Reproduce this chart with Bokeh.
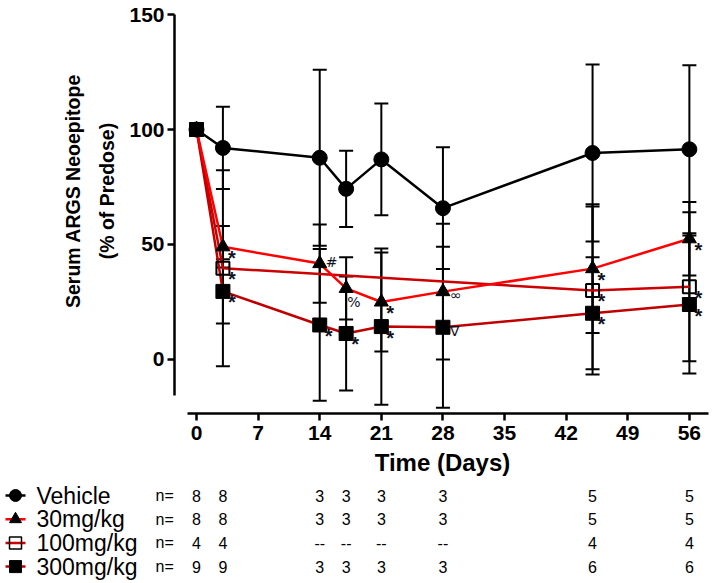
from bokeh.plotting import figure
from bokeh.models import Range1d, FixedTicker, Whisker, TeeHead, ColumnDataSource, LinearAxis
from bokeh.embed import file_html
from bokeh.resources import INLINE
from bokeh.core.properties import value

# ---------------- data ----------------
days = [0, 3, 14, 17, 21, 28, 45, 56]
vehicle = [100, 92.0, 87.7, 74.2, 87.0, 65.8, 89.8, 91.4]
vehicle_err = [0, 17.9, 38.3, 16.6, 24.3, 26.5, 38.5, 36.5]
mg30 = [100, 49.0, 41.7, 30.9, 25.0, 29.5, 39.5, 52.5]
mg30_err = [0, 9.0, 17.0, 13.5, 21.5, 29.5, 28.0, 16.0]
days100 = [0, 3, 45, 56]
mg100 = [100, 39.7, 30.0, 31.6]
mg100_err = [0, 42.6, 36.5, 32.4]
mg300 = [100, 29.6, 15.0, 11.3, 14.3, 14.0, 20.1, 23.9]
mg300_err = [0, 14.0, 33.0, 24.8, 34.0, 35.0, 24.4, 30.0]

star30_days = [3, 21, 45, 56]
star100_days = [3, 45, 56]
star300_days = [3, 14, 17, 21, 45, 56]

group_labels = ["Vehicle", "30mg/kg", "100mg/kg", "300mg/kg"]
n_vehicle = ["8", "8", "3", "3", "3", "3", "5", "5"]
n_30 = ["8", "8", "3", "3", "3", "3", "5", "5"]
n_100 = ["4", "4", "--", "--", "--", "--", "4", "4"]
n_300 = ["9", "9", "3", "3", "3", "3", "6", "6"]

x_ticks = [0, 7, 14, 21, 28, 35, 42, 49, 56]
y_ticks = [0, 50, 100, 150]

# ---------------- styling ----------------
FONT = "Liberation Sans"
BLACK = "#000000"
RED = "#ff0000"
DRED = "#cc0000"
DRED2 = "#c00000"

X0, X1 = -2.5, 58.4
FRAME_W = 536
BORDER_L = 174
PPD = FRAME_W / (X1 - X0)
Y0, Y1 = -23.5, 153.5
FRAME_H = 407

p = figure(frame_width=FRAME_W, frame_height=FRAME_H,
           x_range=Range1d(X0, X1), y_range=Range1d(Y0, Y1),
           output_backend="svg", toolbar_location=None,
           min_border_left=BORDER_L, min_border_right=2, min_border_top=6,
           min_border_bottom=65)
p.outline_line_color = None
p.xgrid.visible = False
p.ygrid.visible = False
p.background_fill_color = "white"
p.border_fill_color = "white"

for ax in (p.xaxis[0], p.yaxis[0]):
    ax.axis_line_width = 2.5
    ax.major_tick_line_width = 2.5
    ax.major_tick_out = 7
    ax.major_tick_in = 0
    ax.minor_tick_line_color = None
    ax.major_label_text_font = FONT
    ax.major_label_text_font_style = "bold"
    ax.major_label_text_font_size = "21px"
    ax.major_label_text_color = BLACK
    ax.axis_line_color = BLACK
    ax.major_tick_line_color = BLACK

p.xaxis.ticker = FixedTicker(ticks=x_ticks)
p.yaxis.ticker = FixedTicker(ticks=y_ticks)
p.xaxis.bounds = (-1, 58.2)
p.yaxis.bounds = (-15.6, 150)
p.xaxis.major_label_standoff = 5
p.yaxis.major_label_standoff = 3
p.xaxis.axis_label = "Time (Days)"
p.xaxis.axis_label_text_font = FONT
p.xaxis.axis_label_text_font_style = "bold"
p.xaxis.axis_label_text_font_size = "24px"
p.xaxis.axis_label_text_color = BLACK
p.xaxis.axis_label_standoff = 6

# y-axis title: two label-only axes; leading no-break spaces lift the centred text
PAD = "\u00a0" * 7
for txt, standoff in (("(% of Predose)", 9), ("Serum ARGS Neoepitope", 9)):
    ta = LinearAxis(ticker=FixedTicker(ticks=[]),
                    axis_line_color=None, major_tick_line_color=None,
                    minor_tick_line_color=None, major_label_text_font_size="0px",
                    axis_label=PAD + txt, axis_label_text_font=FONT,
                    axis_label_text_font_style="bold", axis_label_text_font_size="19.5px",
                    axis_label_text_color=BLACK, axis_label_standoff=standoff)
    p.add_layout(ta, "left")

# error bars
def add_err(xs, ys, es):
    b, u, l = [], [], []
    for x, y, e in zip(xs, ys, es):
        if e > 0:
            b.append(x); u.append(y + e); l.append(y - e)
    src = ColumnDataSource(dict(base=b, upper=u, lower=l))
    w = Whisker(base="base", upper="upper", lower="lower", source=src,
                line_color=BLACK, line_width=2, level="underlay",
                upper_head=TeeHead(size=14, line_width=2, line_color=BLACK),
                lower_head=TeeHead(size=14, line_width=2, line_color=BLACK))
    p.add_layout(w)

add_err(days, vehicle, vehicle_err)
add_err(days, mg30, mg30_err)
add_err(days100, mg100, mg100_err)
add_err(days, mg300, mg300_err)

# lines
p.line(days, vehicle, line_color=BLACK, line_width=2.5)
p.line(days100, mg100, line_color=DRED, line_width=2.5)
p.line(days, mg300, line_color=DRED2, line_width=2.5)
p.line(days, mg30, line_color=RED, line_width=2.5)

# markers
p.scatter(days, vehicle, marker="circle", size=15, fill_color=BLACK, line_color=BLACK)
p.scatter(days, mg30, marker="triangle", size=14, fill_color=BLACK, line_color=BLACK)
p.scatter(days100, mg100, marker="square", size=13, fill_color=None, line_color=BLACK, line_width=2)
p.scatter(days, mg300, marker="square", size=14, fill_color=BLACK, line_color=BLACK)

# significance annotations
def lookup(xs, ys, d):
    return [ys[xs.index(x)] for x in d]

sx = star30_days + star100_days + star300_days
sy = lookup(days, mg30, star30_days) + lookup(days100, mg100, star100_days) + lookup(days, mg300, star300_days)
p.text(x=sx, y=sy, text=["*"] * len(sx), x_offset=5, y_offset=11,
       text_align="left", text_baseline="middle", text_font=value(FONT),
       text_font_style="bold", text_font_size="20px", text_color="#111122")

sym_x = [14, 17, 28, 28]
sym_y = [mg30[days.index(14)], mg30[days.index(17)], mg30[days.index(28)], mg300[days.index(28)]]
sym_t = ["#", "%", "\u221e", "\u2207"]
sym_dx = [6, 1, 7, 7]
sym_dy = [-2, 14, 3, 4]
p.text(x=sym_x, y=sym_y, text=sym_t, x_offset=sym_dx, y_offset=sym_dy,
       text_align="left", text_baseline="middle", text_font=value("DejaVu Sans"),
       text_font_size="14px", text_color="#111122")

# ---------------- legend / n table ----------------
X2_0 = X0 - BORDER_L / PPD
W2 = 714
H2 = 104
ROW_PX = 23.7
TOP_PX = 17
q = figure(frame_width=W2, frame_height=H2,
           x_range=Range1d(X2_0, X2_0 + W2 / PPD),
           y_range=Range1d((H2 - TOP_PX) / ROW_PX, -TOP_PX / ROW_PX),
           output_backend="svg", toolbar_location=None,
           x_axis_location=None, y_axis_location=None,
           min_border_left=0, min_border_right=0, min_border_top=0, min_border_bottom=0)
q.outline_line_color = None
q.xgrid.visible = False
q.ygrid.visible = False

rows = [0, 1, 2, 3]
line_cols = [BLACK, RED, DRED, DRED2]
markers = ["circle", "triangle", "square", "square"]
fills = [BLACK, BLACK, None, BLACK]

lx0 = X2_0 + 5 / PPD
lx1 = X2_0 + 25 / PPD
lxm = X2_0 + 15 / PPD
q.segment(x0=[lx0] * 4, y0=rows, x1=[lx1] * 4, y1=rows, line_color=line_cols, line_width=2.5)
for r in rows:
    q.scatter([lxm], [r], marker=markers[r], size=12, fill_color=fills[r],
              line_color=BLACK, line_width=1.5 if fills[r] is None else 1)
q.text(x=[X2_0 + 36 / PPD] * 4, y=rows, text=group_labels, text_align="left",
       text_baseline="middle", text_font=value(FONT), text_font_size="23px", text_color=BLACK)
q.text(x=[X2_0 + 155 / PPD] * 4, y=rows, text=["n="] * 4, text_align="left",
       text_baseline="middle", text_font=value(FONT), text_font_size="16px", text_color=BLACK)
for r, ns in zip(rows, [n_vehicle, n_30, n_100, n_300]):
    q.text(x=days, y=[r] * len(days), text=ns, text_align="center",
           text_baseline="middle", text_font=value(FONT), text_font_size="16px", text_color=BLACK)

open("out.html", "w").write(file_html([p, q], INLINE))
